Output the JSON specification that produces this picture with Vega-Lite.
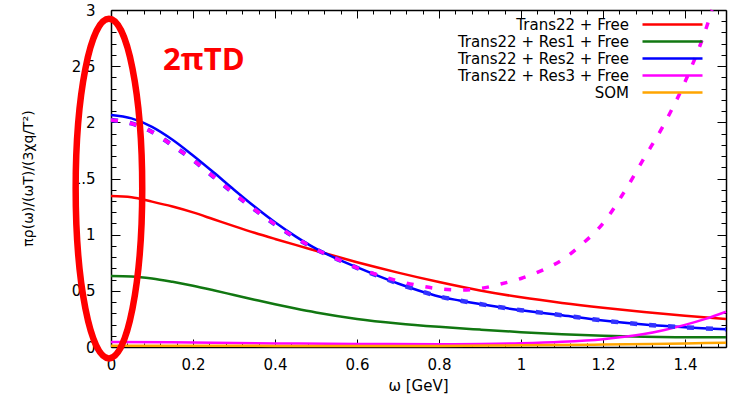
{
  "$schema": "https://vega.github.io/schema/vega-lite/v6.json",
  "width": 615,
  "height": 337,
  "autosize": {"type": "none"},
  "padding": {"left": 111, "top": 10, "right": 4, "bottom": 57},
  "background": "white",
  "config": {
    "view": {"stroke": null},
    "axis": {
      "grid": false,
      "domainColor": "black",
      "domainWidth": 1.5,
      "tickColor": "black",
      "tickWidth": 1,
      "labelFont": "DejaVu Sans",
      "labelFontSize": 15,
      "labelColor": "black",
      "titleFont": "DejaVu Sans",
      "titleFontWeight": "normal",
      "titleColor": "black"
    }
  },
  "datasets": {
    "solid": [
      {"series": "Trans22 + Free", "x": 0, "y": 1.344},
      {"series": "Trans22 + Free", "x": 0.05, "y": 1.333},
      {"series": "Trans22 + Free", "x": 0.1, "y": 1.294},
      {"series": "Trans22 + Free", "x": 0.15, "y": 1.25},
      {"series": "Trans22 + Free", "x": 0.2, "y": 1.198},
      {"series": "Trans22 + Free", "x": 0.25, "y": 1.137},
      {"series": "Trans22 + Free", "x": 0.3, "y": 1.076},
      {"series": "Trans22 + Free", "x": 0.35, "y": 1.017},
      {"series": "Trans22 + Free", "x": 0.4, "y": 0.962},
      {"series": "Trans22 + Free", "x": 0.45, "y": 0.909},
      {"series": "Trans22 + Free", "x": 0.5, "y": 0.857},
      {"series": "Trans22 + Free", "x": 0.55, "y": 0.805},
      {"series": "Trans22 + Free", "x": 0.6, "y": 0.755},
      {"series": "Trans22 + Free", "x": 0.65, "y": 0.707},
      {"series": "Trans22 + Free", "x": 0.7, "y": 0.662},
      {"series": "Trans22 + Free", "x": 0.8, "y": 0.578},
      {"series": "Trans22 + Free", "x": 0.9, "y": 0.503},
      {"series": "Trans22 + Free", "x": 1.0, "y": 0.442},
      {"series": "Trans22 + Free", "x": 1.1, "y": 0.392},
      {"series": "Trans22 + Free", "x": 1.2, "y": 0.349},
      {"series": "Trans22 + Free", "x": 1.3, "y": 0.311},
      {"series": "Trans22 + Free", "x": 1.4, "y": 0.278},
      {"series": "Trans22 + Free", "x": 1.5, "y": 0.25},
      {"series": "Trans22 + Res1 + Free", "x": 0, "y": 0.632},
      {"series": "Trans22 + Res1 + Free", "x": 0.05, "y": 0.628},
      {"series": "Trans22 + Res1 + Free", "x": 0.1, "y": 0.61},
      {"series": "Trans22 + Res1 + Free", "x": 0.15, "y": 0.58},
      {"series": "Trans22 + Res1 + Free", "x": 0.2, "y": 0.545},
      {"series": "Trans22 + Res1 + Free", "x": 0.25, "y": 0.505},
      {"series": "Trans22 + Res1 + Free", "x": 0.3, "y": 0.463},
      {"series": "Trans22 + Res1 + Free", "x": 0.35, "y": 0.421},
      {"series": "Trans22 + Res1 + Free", "x": 0.4, "y": 0.38},
      {"series": "Trans22 + Res1 + Free", "x": 0.45, "y": 0.342},
      {"series": "Trans22 + Res1 + Free", "x": 0.5, "y": 0.307},
      {"series": "Trans22 + Res1 + Free", "x": 0.6, "y": 0.25},
      {"series": "Trans22 + Res1 + Free", "x": 0.7, "y": 0.21},
      {"series": "Trans22 + Res1 + Free", "x": 0.8, "y": 0.18},
      {"series": "Trans22 + Res1 + Free", "x": 0.9, "y": 0.155},
      {"series": "Trans22 + Res1 + Free", "x": 1.0, "y": 0.132},
      {"series": "Trans22 + Res1 + Free", "x": 1.1, "y": 0.114},
      {"series": "Trans22 + Res1 + Free", "x": 1.2, "y": 0.1},
      {"series": "Trans22 + Res1 + Free", "x": 1.3, "y": 0.091},
      {"series": "Trans22 + Res1 + Free", "x": 1.4, "y": 0.087},
      {"series": "Trans22 + Res1 + Free", "x": 1.5, "y": 0.086},
      {"series": "Trans22 + Res2 + Free", "x": 0, "y": 2.065},
      {"series": "Trans22 + Res2 + Free", "x": 0.05, "y": 2.035},
      {"series": "Trans22 + Res2 + Free", "x": 0.1, "y": 1.96},
      {"series": "Trans22 + Res2 + Free", "x": 0.15, "y": 1.845},
      {"series": "Trans22 + Res2 + Free", "x": 0.2, "y": 1.705},
      {"series": "Trans22 + Res2 + Free", "x": 0.25, "y": 1.555},
      {"series": "Trans22 + Res2 + Free", "x": 0.3, "y": 1.4},
      {"series": "Trans22 + Res2 + Free", "x": 0.35, "y": 1.25},
      {"series": "Trans22 + Res2 + Free", "x": 0.4, "y": 1.11},
      {"series": "Trans22 + Res2 + Free", "x": 0.45, "y": 0.985},
      {"series": "Trans22 + Res2 + Free", "x": 0.5, "y": 0.875},
      {"series": "Trans22 + Res2 + Free", "x": 0.55, "y": 0.787},
      {"series": "Trans22 + Res2 + Free", "x": 0.6, "y": 0.71},
      {"series": "Trans22 + Res2 + Free", "x": 0.65, "y": 0.635},
      {"series": "Trans22 + Res2 + Free", "x": 0.7, "y": 0.565},
      {"series": "Trans22 + Res2 + Free", "x": 0.75, "y": 0.503},
      {"series": "Trans22 + Res2 + Free", "x": 0.8, "y": 0.45},
      {"series": "Trans22 + Res2 + Free", "x": 0.85, "y": 0.414},
      {"series": "Trans22 + Res2 + Free", "x": 0.9, "y": 0.382},
      {"series": "Trans22 + Res2 + Free", "x": 0.95, "y": 0.353},
      {"series": "Trans22 + Res2 + Free", "x": 1.0, "y": 0.328},
      {"series": "Trans22 + Res2 + Free", "x": 1.1, "y": 0.283},
      {"series": "Trans22 + Res2 + Free", "x": 1.2, "y": 0.236},
      {"series": "Trans22 + Res2 + Free", "x": 1.3, "y": 0.2},
      {"series": "Trans22 + Res2 + Free", "x": 1.4, "y": 0.175},
      {"series": "Trans22 + Res2 + Free", "x": 1.5, "y": 0.157},
      {"series": "Trans22 + Res3 + Free", "x": 0, "y": 0.045},
      {"series": "Trans22 + Res3 + Free", "x": 0.2, "y": 0.04},
      {"series": "Trans22 + Res3 + Free", "x": 0.4, "y": 0.032},
      {"series": "Trans22 + Res3 + Free", "x": 0.6, "y": 0.027},
      {"series": "Trans22 + Res3 + Free", "x": 0.8, "y": 0.025},
      {"series": "Trans22 + Res3 + Free", "x": 0.9, "y": 0.027},
      {"series": "Trans22 + Res3 + Free", "x": 1.0, "y": 0.033},
      {"series": "Trans22 + Res3 + Free", "x": 1.1, "y": 0.046},
      {"series": "Trans22 + Res3 + Free", "x": 1.2, "y": 0.07},
      {"series": "Trans22 + Res3 + Free", "x": 1.3, "y": 0.115},
      {"series": "Trans22 + Res3 + Free", "x": 1.35, "y": 0.152},
      {"series": "Trans22 + Res3 + Free", "x": 1.4, "y": 0.197},
      {"series": "Trans22 + Res3 + Free", "x": 1.45, "y": 0.25},
      {"series": "Trans22 + Res3 + Free", "x": 1.5, "y": 0.314},
      {"series": "SOM", "x": 0, "y": 0.012},
      {"series": "SOM", "x": 0.4, "y": 0.01},
      {"series": "SOM", "x": 0.8, "y": 0.01},
      {"series": "SOM", "x": 1.0, "y": 0.015},
      {"series": "SOM", "x": 1.2, "y": 0.022},
      {"series": "SOM", "x": 1.4, "y": 0.032},
      {"series": "SOM", "x": 1.5, "y": 0.037}
    ],
    "dotted_blue": [
      {"x": 0, "y": 2.02}, {"x": 0.05, "y": 1.99}, {"x": 0.1, "y": 1.915}, {"x": 0.15, "y": 1.795},
      {"x": 0.2, "y": 1.665}, {"x": 0.25, "y": 1.516}, {"x": 0.3, "y": 1.367}, {"x": 0.35, "y": 1.225},
      {"x": 0.4, "y": 1.092}, {"x": 0.45, "y": 0.973}, {"x": 0.5, "y": 0.87}, {"x": 0.55, "y": 0.785},
      {"x": 0.6, "y": 0.705}, {"x": 0.65, "y": 0.635}, {"x": 0.7, "y": 0.565}, {"x": 0.75, "y": 0.503},
      {"x": 0.8, "y": 0.45}, {"x": 0.85, "y": 0.414}, {"x": 0.9, "y": 0.382}, {"x": 0.95, "y": 0.353},
      {"x": 1.0, "y": 0.328}, {"x": 1.1, "y": 0.283}, {"x": 1.2, "y": 0.236}, {"x": 1.3, "y": 0.2},
      {"x": 1.4, "y": 0.175}, {"x": 1.5, "y": 0.157}
    ],
    "dotted_magenta": [
      {"x": 0, "y": 2.02}, {"x": 0.05, "y": 1.99}, {"x": 0.1, "y": 1.915}, {"x": 0.15, "y": 1.795},
      {"x": 0.2, "y": 1.665}, {"x": 0.25, "y": 1.516}, {"x": 0.3, "y": 1.367}, {"x": 0.35, "y": 1.225},
      {"x": 0.4, "y": 1.092}, {"x": 0.45, "y": 0.973}, {"x": 0.5, "y": 0.87}, {"x": 0.55, "y": 0.785},
      {"x": 0.6, "y": 0.705}, {"x": 0.65, "y": 0.643}, {"x": 0.7, "y": 0.588}, {"x": 0.75, "y": 0.547},
      {"x": 0.8, "y": 0.518}, {"x": 0.85, "y": 0.507}, {"x": 0.9, "y": 0.52}, {"x": 0.95, "y": 0.56},
      {"x": 1.0, "y": 0.61}, {"x": 1.05, "y": 0.68}, {"x": 1.1, "y": 0.775}, {"x": 1.15, "y": 0.92},
      {"x": 1.2, "y": 1.1}, {"x": 1.25, "y": 1.37}, {"x": 1.3, "y": 1.68}, {"x": 1.35, "y": 1.99},
      {"x": 1.4, "y": 2.36}, {"x": 1.45, "y": 2.82}, {"x": 1.466, "y": 3.0}
    ],
    "ann_ellipse": [{"x": -0.005, "y": 1.41}],
    "ann_text": [{"x": 0.127, "y": 2.466, "label": "2πTD"}]
  },
  "layer": [
    {
      "data": {"name": "solid"},
      "mark": {"type": "line", "strokeWidth": 2.5, "interpolate": "monotone"},
      "encoding": {
        "x": {
          "field": "x", "type": "quantitative",
          "scale": {"domain": [0, 1.5], "nice": false, "zero": false},
          "axis": {
            "orient": "bottom",
            "values": [0,0.04,0.08,0.12,0.16,0.2,0.24,0.28,0.32,0.36,0.4,0.44,0.48,0.52,0.56,0.6,0.64,0.68,0.72,0.76,0.8,0.84,0.88,0.92,0.96,1,1.04,1.08,1.12,1.16,1.2,1.24,1.28,1.32,1.36,1.4,1.44,1.48],
            "format": ".2~f",
            "labelExpr": "abs(datum.value*5 - round(datum.value*5)) < 0.000001 ? datum.label : ''",
            "labelOverlap": false,
            "labelFlush": false,
            "tickSize": {"condition": {"test": "abs(datum.value*5 - round(datum.value*5)) < 0.000001", "value": -8}, "value": -4},
            "labelPadding": 18,
            "title": "ω [GeV]",
            "titleFontSize": 15,
            "titleX": 307,
            "titleY": 38,
            "titleBaseline": "middle",
            "titleAlign": "center"
          }
        },
        "y": {
          "field": "y", "type": "quantitative",
          "scale": {"domain": [0, 3], "nice": false, "zero": false},
          "axis": {
            "orient": "left",
            "values": [0,0.1,0.2,0.3,0.4,0.5,0.6,0.7,0.8,0.9,1,1.1,1.2,1.3,1.4,1.5,1.6,1.7,1.8,1.9,2,2.1,2.2,2.3,2.4,2.5,2.6,2.7,2.8,2.9,3],
            "format": ".1~f",
            "labelExpr": "abs(datum.value*2 - round(datum.value*2)) < 0.000001 ? datum.label : ''",
            "labelOverlap": false,
            "labelFlush": false,
            "tickSize": {"condition": {"test": "abs(datum.value*2 - round(datum.value*2)) < 0.000001", "value": -9}, "value": -5},
            "labelPadding": 25,
            "title": "πρ(ω)/(ωT)/(3χq/T²)",
            "titleFontSize": 14,
            "titleAngle": -90,
            "titleX": -83,
            "titleY": 168,
            "titleBaseline": "middle",
            "titleAlign": "center"
          }
        },
        "color": {
          "field": "series", "type": "nominal",
          "scale": {
            "domain": ["Trans22 + Free", "Trans22 + Res1 + Free", "Trans22 + Res2 + Free", "Trans22 + Res3 + Free", "SOM"],
            "range": ["#ff0000", "#117711", "#0000ff", "#ff00ff", "#ffa500"]
          },
          "legend": {
            "orient": "none",
            "legendX": 554,
            "legendY": 7,
            "title": null,
            "symbolType": "M-6,0H6",
            "symbolSize": 100,
            "symbolStrokeWidth": 2.5,
            "labelAlign": "right",
            "labelOffset": -51,
            "labelLimit": 400,
            "labelFont": "DejaVu Sans",
            "labelFontSize": 15,
            "labelColor": "black",
            "rowPadding": 1,
            "padding": 0
          }
        }
      }
    },
    {
      "data": {"name": "dotted_blue"},
      "mark": {"type": "line", "strokeWidth": 4.5, "interpolate": "monotone", "color": "#3333ff", "strokeDash": [7, 12]},
      "encoding": {
        "x": {
          "field": "x", "type": "quantitative",
          "axis": {
            "orient": "top",
            "values": [0,0.04,0.08,0.12,0.16,0.2,0.24,0.28,0.32,0.36,0.4,0.44,0.48,0.52,0.56,0.6,0.64,0.68,0.72,0.76,0.8,0.84,0.88,0.92,0.96,1,1.04,1.08,1.12,1.16,1.2,1.24,1.28,1.32,1.36,1.4,1.44,1.48],
            "labels": false,
            "title": null,
            "tickSize": {"condition": {"test": "abs(datum.value*5 - round(datum.value*5)) < 0.000001", "value": -8}, "value": -4}
          }
        },
        "y": {
          "field": "y", "type": "quantitative",
          "axis": {
            "orient": "right",
            "values": [0,0.1,0.2,0.3,0.4,0.5,0.6,0.7,0.8,0.9,1,1.1,1.2,1.3,1.4,1.5,1.6,1.7,1.8,1.9,2,2.1,2.2,2.3,2.4,2.5,2.6,2.7,2.8,2.9,3],
            "labels": false,
            "title": null,
            "tickSize": {"condition": {"test": "abs(datum.value*2 - round(datum.value*2)) < 0.000001", "value": -9}, "value": -5}
          }
        }
      }
    },
    {
      "data": {"name": "dotted_magenta"},
      "mark": {"type": "line", "strokeWidth": 3.5, "interpolate": "monotone", "color": "#ff00ff", "strokeDash": [7, 12]},
      "encoding": {
        "x": {"field": "x", "type": "quantitative", "axis": null},
        "y": {"field": "y", "type": "quantitative", "axis": null}
      }
    },
    {
      "data": {"name": "ann_ellipse"},
      "mark": {"type": "point", "shape": "M0,-1A0.196,1 0 1,1 0,1A0.196,1 0 1,1 0,-1Z", "size": 115328, "filled": false, "color": "#ff0000", "strokeWidth": 6.5, "opacity": 1},
      "encoding": {
        "x": {"field": "x", "type": "quantitative", "axis": null},
        "y": {"field": "y", "type": "quantitative", "axis": null}
      }
    },
    {
      "data": {"name": "ann_text"},
      "mark": {"type": "text", "font": "Open Sans", "fontWeight": "bold", "fontSize": 31, "color": "#ff0000", "align": "left", "baseline": "alphabetic"},
      "encoding": {
        "x": {"field": "x", "type": "quantitative", "axis": null},
        "y": {"field": "y", "type": "quantitative", "axis": null},
        "text": {"field": "label"}
      }
    }
  ]
}
